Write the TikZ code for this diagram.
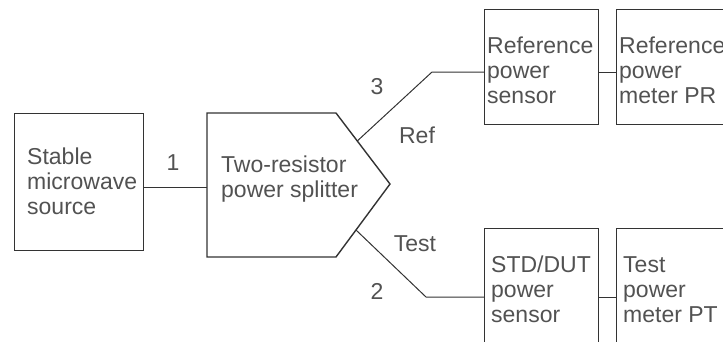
\documentclass[tikz,border=0pt]{standalone}
\usepackage{fontspec}
\setmainfont{Liberation Sans}
\usetikzlibrary{calc}
\newcommand{\lines}[1]{\vtop{\fontsize{23}{25}\selectfont\baselineskip=25pt\halign{##\hfil\cr#1\crcr}}}
\begin{document}
\begin{tikzpicture}[x=1pt,y=-1pt,
  ink/.style={draw=black!80, line width=1.1pt},
  wire/.style={draw=black!80, line width=1pt},
  txt/.style={anchor=base west, inner sep=0pt, text=black!68},
  lab/.style={anchor=base, inner sep=0pt, text=black!68, font=\fontsize{23}{25}\selectfont}]
\useasboundingbox (0,0) rectangle (723,341);
\clip (0,0) rectangle (723,341);
% boxes
\node[ink, minimum width=129pt, minimum height=137pt, inner sep=0pt, anchor=north west] (src) at (14,113) {};
\node[ink, minimum width=114pt, minimum height=115pt, inner sep=0pt, anchor=north west] (refs) at (484,9) {};
\node[ink, minimum width=130pt, minimum height=115pt, inner sep=0pt, anchor=north west] (refm) at (616,9) {};
\node[ink, minimum width=114pt, minimum height=130pt, inner sep=0pt, anchor=north west] (stds) at (484,228) {};
\node[ink, minimum width=130pt, minimum height=130pt, inner sep=0pt, anchor=north west] (testm) at (616,228) {};
% splitter
\coordinate (sptl) at (207,113);
\coordinate (sptr) at (336,113);
\coordinate (sptip) at (390,184);
\coordinate (spbr) at (336,257);
\coordinate (spbl) at (207,257);
\draw[ink, line width=1.4pt, line join=miter] (sptl) -- (sptr) -- (sptip) -- (spbr) -- (spbl) -- cycle;
\coordinate (srcport) at (143,187);
\coordinate (spin) at (207,187);
\coordinate (refport) at ($(sptr)!0.394!(sptip)$);
\coordinate (testport) at ($(sptip)!0.63!(spbr)$);
\coordinate (refbend) at (432,72);
\coordinate (testbend) at (426,297);
% connectors
\draw[wire] (srcport) -- (spin);
\draw[wire] (refport) -- (refbend) -- (refbend -| refs.west);
\draw[wire] (refs.east |- refbend) -- (refm.west |- refbend);
\draw[wire] (testport) -- (testbend) -- (testbend -| stds.west);
\draw[wire] (stds.east |- testbend) -- (testm.west |- testbend);
% texts
\node[txt] (srct) at (27,164) {\lines{Stable\cr microwave\cr source}};
\node[txt] (spt) at (221,172) {\lines{Two-resistor\cr power splitter}};
\node[txt] (refst) at (487,53) {\lines{Reference\cr power\cr sensor}};
\node[txt] (refmt) at (619,53) {\lines{Reference\cr power\cr meter PR}};
\node[txt] (stdst) at (491,272) {\lines{STD/DUT\cr power\cr sensor}};
\node[txt] (testmt) at (623,272) {\lines{Test\cr power\cr meter PT}};
% labels
\node[lab] (l1) at (173,170) {1};
\node[lab] (l3) at (377,94) {3};
\node[lab] (l2) at (377,299) {2};
\node[lab] (lref) at (417,143) {Ref};
\node[lab] (ltest) at (415,251) {Test};
\end{tikzpicture}
\end{document}
